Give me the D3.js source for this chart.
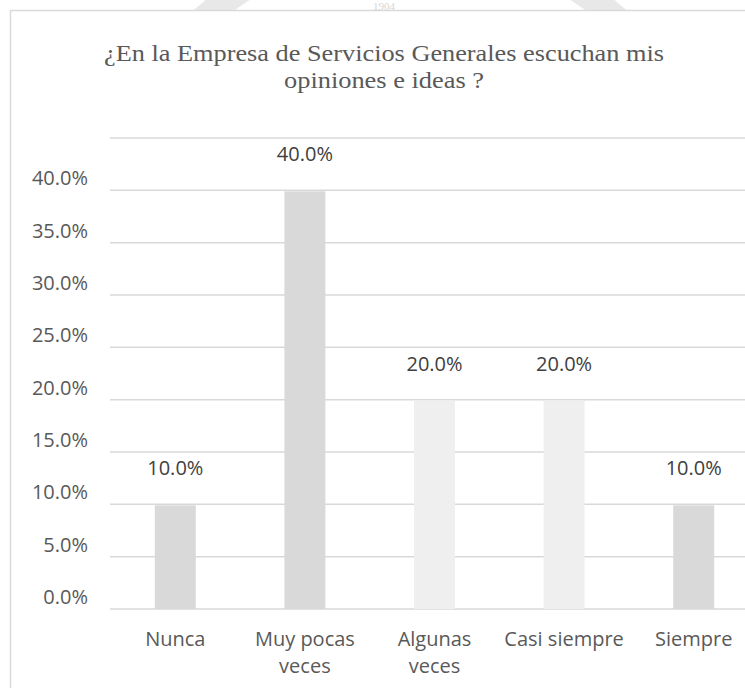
<!DOCTYPE html>
<html>
<head>
<meta charset="utf-8">
<script src="https://cdn.jsdelivr.net/npm/d3@7"></script>
<style>
  body { margin: 0; background: #fff; }
  svg { display: block; }
</style>
</head>
<body>
<svg id="chart" width="745" height="688"></svg>
<script>
// Data
var categories = ["Nunca", "Muy pocas veces", "Algunas veces", "Casi siempre", "Siempre"];
var labelLines = [["Nunca"], ["Muy pocas", "veces"], ["Algunas", "veces"], ["Casi siempre"], ["Siempre"]];
var values = [0.10, 0.40, 0.20, 0.20, 0.10];
var barColors = ["#d9d9d9", "#d9d9d9", "#efefef", "#efefef", "#d9d9d9"];
var tickValues = [0, 0.05, 0.10, 0.15, 0.20, 0.25, 0.30, 0.35, 0.40, 0.45];
var titleLines = ["¿En la Empresa de Servicios Generales escuchan mis", "opiniones e ideas ?"];
var titleWidths = [560, 200];

var svg = d3.select("#chart"),
    width = +svg.attr("width"),
    height = +svg.attr("height");

// faint watermark behind the chart (only its top edge shows)
svg.append("circle")
    .attr("cx", 410)
    .attr("cy", 250)
    .attr("r", 310)
    .attr("fill", "none")
    .attr("stroke", "#e8e8e8")
    .attr("stroke-width", 26);
svg.append("text")
    .attr("x", 384)
    .attr("y", 10)
    .attr("text-anchor", "middle")
    .style("font-family", "Liberation Serif")
    .style("font-size", "11px")
    .style("fill", "#d6d6d6")
    .text("1904");

// chart area
svg.append("rect")
    .attr("x", 10.5)
    .attr("y", 10.5)
    .attr("width", width)
    .attr("height", height)
    .attr("fill", "#fff")
    .attr("stroke", "#d9d9d9")
    .attr("stroke-width", 1.5);

// title, stretched a little wider like the original
svg.selectAll("text.title")
    .data(titleLines)
    .enter().append("text")
    .attr("class", "title")
    .attr("x", 384)
    .attr("y", function (d, i) { return 61 + i * 27; })
    .attr("text-anchor", "middle")
    .attr("textLength", function (d, i) { return titleWidths[i]; })
    .attr("lengthAdjust", "spacingAndGlyphs")
    .style("font-family", "Liberation Serif")
    .style("font-size", "24px")
    .style("fill", "#595959")
    .text(function (d) { return d; });

// scales
var x = d3.scaleBand()
    .domain(categories)
    .range([110.5, 758.5])
    .paddingInner(0.684)
    .paddingOuter(0.342);

var y = d3.scaleLinear()
    .domain([0, 0.45])
    .range([609, 138]);

var pct = d3.format(".1%");

// gridlines
svg.selectAll("line.grid")
    .data(tickValues)
    .enter().append("line")
    .attr("class", "grid")
    .attr("x1", 110)
    .attr("x2", width)
    .attr("y1", function (d) { return y(d); })
    .attr("y2", function (d) { return y(d); })
    .attr("stroke", "#d9d9d9")
    .attr("stroke-width", 1.5);

// y axis labels (top gridline has no label)
svg.selectAll("text.ytick")
    .data(tickValues.slice(0, -1))
    .enter().append("text")
    .attr("class", "ytick")
    .attr("x", 88)
    .attr("y", function (d) { return y(d) - 5; })
    .attr("text-anchor", "end")
    .style("font-family", "Open Sans")
    .style("font-size", "20px")
    .style("fill", "#595959")
    .text(function (d) { return pct(d); });

// bars
svg.selectAll("rect.bar")
    .data(values)
    .enter().append("rect")
    .attr("class", "bar")
    .attr("x", function (d, i) { return x(categories[i]); })
    .attr("y", function (d) { return y(d) + 1; })
    .attr("width", x.bandwidth())
    .attr("height", function (d) { return y(0) - y(d) - 1; })
    .attr("fill", function (d, i) { return barColors[i]; });

// data labels
svg.selectAll("text.value")
    .data(values)
    .enter().append("text")
    .attr("class", "value")
    .attr("x", function (d, i) { return x(categories[i]) + x.bandwidth() / 2; })
    .attr("y", function (d) { return y(d) - 29; })
    .attr("text-anchor", "middle")
    .style("font-family", "Open Sans")
    .style("font-size", "20px")
    .style("fill", "#404040")
    .text(function (d) { return pct(d); });

// category labels
var xLabels = svg.selectAll("text.xtick")
    .data(labelLines)
    .enter().append("text")
    .attr("class", "xtick")
    .attr("text-anchor", "middle")
    .style("font-family", "Open Sans")
    .style("font-size", "20px")
    .style("fill", "#595959");

xLabels.selectAll("tspan")
    .data(function (d, i) {
        return d.map(function (t) { return { text: t, cat: categories[i] }; });
    })
    .enter().append("tspan")
    .attr("x", function (d) { return x(d.cat) + x.bandwidth() / 2; })
    .attr("y", function (d, j) { return 646 + j * 27; })
    .text(function (d) { return d.text; });
</script>
</body>
</html>
